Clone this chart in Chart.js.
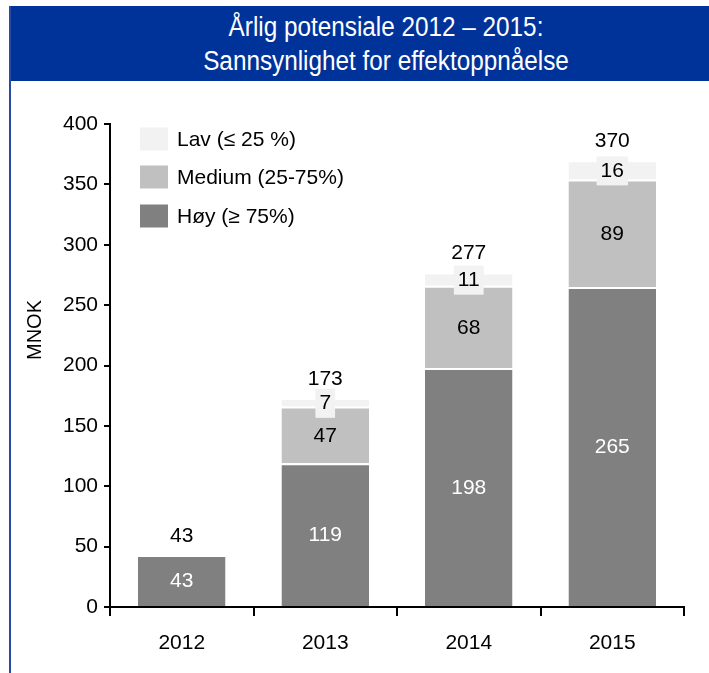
<!DOCTYPE html>
<html>
<head>
<meta charset="utf-8">
<script src="https://cdn.jsdelivr.net/npm/chart.js@4"></script>
<style>
  html, body { margin: 0; padding: 0; background: #fff; }
  #wrap { position: relative; width: 709px; height: 673px; overflow: hidden; }
  #header {
    position: absolute; left: 9px; top: 6px; width: 700px; height: 75px;
    background: #003399;
  }
  #header .txt {
    position: absolute; left: 0; top: 4px; width: 754px;
    text-align: center; color: #fff;
    font: 27px 'Liberation Sans', Arial, sans-serif; line-height: 34px;
    transform: scaleX(0.9); transform-origin: 377px 0;
    white-space: nowrap;
  }
  #border { position: absolute; left: 9px; top: 6px; width: 2px; height: 667px; background: #2a48a6; }
  #chart { position: absolute; left: 11px; top: 81px; }
</style>
</head>
<body>
<div id="wrap">
  <div id="header"><div class="txt">Årlig potensiale 2012 – 2015:<br>Sannsynlighet for effektoppnåelse</div></div>
  <div id="border"></div>
  <canvas id="chart" width="698" height="592"></canvas>
</div>
<script>
const years = ['2012', '2013', '2014', '2015'];
const hoy = [43, 119, 198, 265];
const medium = [null, 47, 68, 89];
const lav = [null, 7, 11, 16];
const totals = [43, 173, 277, 370];
const seriesNames = ['Høy (≥ 75%)', 'Medium (25-75%)', 'Lav (≤ 25 %)'];
const seriesColors = ['#808080', '#C0C0C0', '#F2F2F2'];

const FONT = "'Liberation Sans', Arial, sans-serif";
Chart.defaults.font.family = FONT;
Chart.defaults.font.size = 21;
Chart.defaults.color = '#000';

const labelPlugin = {
  id: 'barLabels',
  afterDatasetsDraw(chart) {
    const ctx = chart.ctx;
    ctx.save();
    ctx.font = '21px ' + FONT;
    ctx.textAlign = 'center';
    ctx.textBaseline = 'middle';
    chart.data.datasets.forEach((ds, di) => {
      const meta = chart.getDatasetMeta(di);
      meta.data.forEach((bar, i) => {
        const v = ds.data[i];
        if (v == null) return;
        const cy = (bar.y + bar.base) / 2 + 1;
        const txt = String(v);
        if (di === 2) {
          const w = ctx.measureText(txt).width + 8;
          ctx.fillStyle = '#F2F2F2';
          ctx.fillRect(bar.x - w / 2, cy - 14.5, w, 29);
        }
        ctx.fillStyle = di === 0 ? '#fff' : '#000';
        ctx.fillText(txt, bar.x, cy);
      });
    });
    const meta0 = chart.getDatasetMeta(0);
    totals.forEach((t, i) => {
      const top = chart.scales.y.getPixelForValue(t);
      ctx.fillStyle = '#000';
      ctx.fillText(String(t), meta0.data[i].x, top - 19);
    });
    ctx.restore();
  }
};

const legendPlugin = {
  id: 'boxLegend',
  afterDraw(chart) {
    const ctx = chart.ctx;
    const a = chart.chartArea;
    ctx.save();
    ctx.font = '21px ' + FONT;
    ctx.textBaseline = 'middle';
    ctx.textAlign = 'left';
    const rows = [58, 96, 135];
    [2, 1, 0].forEach((si, r) => {
      const y = a.top + rows[r] - 43;
      ctx.fillStyle = seriesColors[si];
      ctx.fillRect(a.left + 30, y - 11.5, 28, 23);
      ctx.fillStyle = '#000';
      ctx.fillText(seriesNames[si], a.left + 67, y + 1);
    });
    // y axis title
    ctx.translate(24, 249);
    ctx.rotate(-Math.PI / 2);
    ctx.textAlign = 'center';
    ctx.font = '20px ' + FONT;
    ctx.fillText('MNOK', 0, 0);
    ctx.restore();
  }
};

new Chart(document.getElementById('chart'), {
  type: 'bar',
  data: {
    labels: years,
    datasets: [hoy, medium, lav].map((d, i) => ({
      label: seriesNames[i],
      data: d,
      backgroundColor: seriesColors[i],
      borderColor: '#fff',
      borderWidth: { top: 2, left: 0, right: 0, bottom: 0 },
      borderSkipped: false,
      categoryPercentage: 1,
      barPercentage: 0.61,
    })),
  },
  options: {
    responsive: false,
    animation: false,
    devicePixelRatio: 1,
    layout: { padding: { top: 43, right: 25, left: 0, bottom: 0 } },
    plugins: { legend: { display: false }, tooltip: { enabled: false }, title: { display: false } },
    scales: {
      x: {
        stacked: true,
        grid: { offset: true, drawOnChartArea: false, drawTicks: true, tickLength: 9, color: '#000', lineWidth: 2 },
        border: { color: '#000', width: 2 },
        ticks: { color: '#000', padding: 15, font: { size: 21 } },
        afterFit: s => { s.height = 66; },
      },
      y: {
        stacked: true,
        min: 0,
        max: 400,
        grid: { drawOnChartArea: false, drawTicks: true, tickLength: 6, color: '#000', lineWidth: 2 },
        border: { color: '#000', width: 2 },
        ticks: { stepSize: 50, color: '#000', padding: 6, font: { size: 21 } },
        afterFit: s => { s.width = 99; },
      },
    },
  },
  plugins: [labelPlugin, legendPlugin],
});
</script>
</body>
</html>
